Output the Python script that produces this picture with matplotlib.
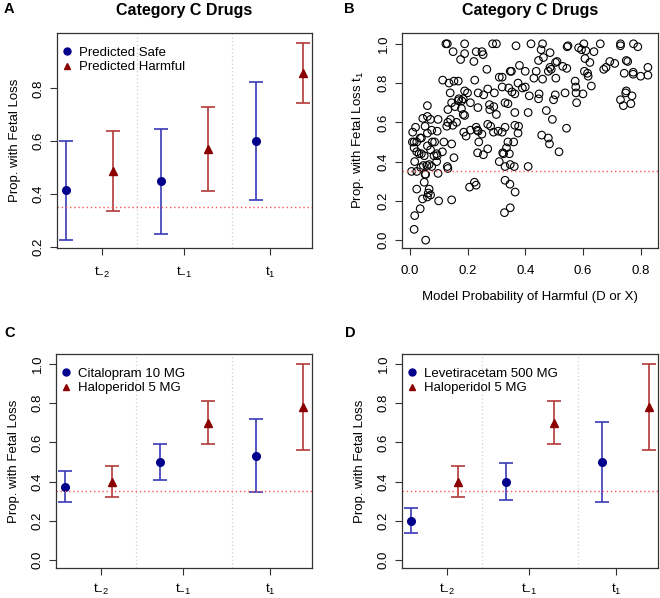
import matplotlib
matplotlib.use("Agg")
import matplotlib.pyplot as plt
from matplotlib.lines import Line2D

plt.rcParams['font.family'] = ['Liberation Sans', 'DejaVu Sans']
plt.rcParams['mathtext.fontset'] = 'custom'
plt.rcParams['mathtext.rm'] = 'Liberation Sans'
plt.rcParams['mathtext.it'] = 'Liberation Sans'

# ---- data ----
time_labels = [r'$\mathrm{t}_{-2}$', r'$\mathrm{t}_{-1}$', r'$\mathrm{t}_{1}$']

# panel A: predicted safe vs predicted harmful
safe_mean = [0.415, 0.448, 0.600]
safe_lo = [0.226, 0.249, 0.377]
safe_hi = [0.602, 0.646, 0.823]
harm_mean = [0.487, 0.571, 0.858]
harm_lo = [0.336, 0.411, 0.745]
harm_hi = [0.638, 0.731, 0.972]

# panel C / D: individual drugs
cital_mean = [0.375, 0.500, 0.533]
cital_lo = [0.298, 0.406, 0.349]
cital_hi = [0.453, 0.594, 0.719]
levet_mean = [0.200, 0.400, 0.500]
levet_lo = [0.137, 0.305, 0.296]
levet_hi = [0.264, 0.497, 0.702]
halo_mean = [0.400, 0.700, 0.782]
halo_lo = [0.321, 0.592, 0.562]
halo_hi = [0.477, 0.809, 1.000]

baseline = 0.35

# panel B: model probability vs fetal loss at t1
prob_harmful = [
    0.125, 0.13, 0.19, 0.287, 0.30, 0.42, 0.46, 0.603, 0.66, 0.73, 0.775,
    0.368, 0.545, 0.548, 0.79, 0.73,
    0.15, 0.23, 0.25, 0.254, 0.19, 0.455, 0.486, 0.585, 0.595, 0.61, 0.638,
    0.176, 0.222, 0.446, 0.51, 0.505, 0.607, 0.624, 0.693, 0.71, 0.75, 0.755,
    0.267, 0.463, 0.486, 0.53, 0.544, 0.672, 0.68, 0.825,
    0.348, 0.352, 0.38, 0.438, 0.48, 0.49, 0.605, 0.616, 0.743, 0.774, 0.774,
    0.31, 0.32, 0.46, 0.506, 0.618, 0.80, 0.825,
    0.114, 0.136, 0.153, 0.168, 0.225, 0.375, 0.43, 0.40, 0.40, 0.39,
    0.32, 0.343, 0.364, 0.354, 0.414, 0.448, 0.446, 0.538, 0.576, 0.575, 0.573, 0.629, 0.60, 0.578,
    0.14, 0.19, 0.20, 0.237, 0.256, 0.27, 0.293,
    0.168, 0.17, 0.18, 0.21, 0.185, 0.276, 0.291, 0.33, 0.34, 0.498, 0.504, 0.73, 0.74, 0.748, 0.75, 0.766, 0.77,
    0.061, 0.132, 0.145, 0.157, 0.179, 0.236, 0.277, 0.30, 0.364, 0.41, 0.473,
    0.045, 0.061, 0.072, 0.098, 0.053, 0.185, 0.19, 0.141, 0.132, 0.162, 0.149, 0.128, 0.494, 0.28,
    0.01, 0.02, 0.076, 0.061, 0.095, 0.23, 0.234, 0.237, 0.27, 0.29, 0.306, 0.32, 0.33, 0.364, 0.377, 0.375, 0.543, 0.187,
    0.009, 0.015, 0.024, 0.036, 0.04, 0.078, 0.086, 0.118, 0.195, 0.21, 0.239, 0.25, 0.34, 0.36, 0.457, 0.48, 0.484,
    0.015, 0.024, 0.032, 0.05, 0.061, 0.072, 0.084, 0.095, 0.113, 0.145, 0.04, 0.153, 0.093, 0.235, 0.255, 0.27, 0.322, 0.325, 0.345, 0.335, 0.517,
    0.006, 0.017, 0.024, 0.038, 0.047, 0.059, 0.067, 0.076, 0.055, 0.053, 0.093, 0.098, 0.13, 0.132, 0.31, 0.33, 0.348, 0.362, 0.41,
    0.024, 0.05, 0.067, 0.064, 0.072, 0.061, 0.044, 0.036, 0.017, 0.015, 0.055, 0.10, 0.145, 0.224, 0.23, 0.207, 0.33, 0.347, 0.365, 0.328, 0.348,
]
fetal_loss_t1 = [
    1.0, 1.0, 1.0, 1.0, 1.0, 1.0, 1.0, 1.0, 1.0, 1.0, 1.0,
    0.99, 0.985, 0.99, 0.985, 0.99,
    0.96, 0.96, 0.96, 0.945, 0.95, 0.97, 0.955, 0.98, 0.97, 0.965, 0.96,
    0.92, 0.91, 0.915, 0.91, 0.905, 0.925, 0.905, 0.91, 0.90, 0.915, 0.91,
    0.87, 0.93, 0.88, 0.885, 0.875, 0.87, 0.88, 0.88,
    0.86, 0.86, 0.89, 0.86, 0.86, 0.87, 0.86, 0.85, 0.85, 0.855, 0.845,
    0.83, 0.83, 0.82, 0.825, 0.835, 0.835, 0.84,
    0.815, 0.80, 0.81, 0.81, 0.815, 0.80, 0.825, 0.86, 0.78, 0.775,
    0.78, 0.775, 0.745, 0.755, 0.735, 0.745, 0.72, 0.75, 0.75, 0.78, 0.81, 0.785, 0.745, 0.70,
    0.75, 0.76, 0.75, 0.75, 0.74, 0.77, 0.75,
    0.71, 0.72, 0.71, 0.70, 0.72, 0.69, 0.68, 0.70, 0.695, 0.715, 0.74, 0.715, 0.685, 0.75, 0.76, 0.695, 0.735,
    0.685, 0.665, 0.70, 0.68, 0.67, 0.675, 0.665, 0.64, 0.65, 0.65, 0.66,
    0.62, 0.63, 0.615, 0.615, 0.58, 0.64, 0.635, 0.615, 0.60, 0.60, 0.585, 0.58, 0.615, 0.58,
    0.55, 0.575, 0.56, 0.545, 0.555, 0.575, 0.56, 0.555, 0.59, 0.55, 0.555, 0.55, 0.575, 0.585, 0.58, 0.545, 0.57, 0.55,
    0.50, 0.50, 0.50, 0.52, 0.52, 0.50, 0.50, 0.50, 0.53, 0.56, 0.50, 0.54, 0.50, 0.50, 0.535, 0.52, 0.49,
    0.47, 0.45, 0.44, 0.43, 0.48, 0.46, 0.43, 0.43, 0.45, 0.49, 0.44, 0.42, 0.44, 0.445, 0.435, 0.465, 0.445, 0.44, 0.44, 0.47, 0.45,
    0.35, 0.40, 0.35, 0.37, 0.38, 0.38, 0.385, 0.375, 0.335, 0.335, 0.40, 0.34, 0.375, 0.365, 0.40, 0.375, 0.385, 0.375, 0.375,
    0.26, 0.295, 0.26, 0.24, 0.23, 0.22, 0.21, 0.16, 0.125, 0.055, 0.0, 0.20, 0.205, 0.295, 0.28, 0.27, 0.305, 0.285, 0.245, 0.14, 0.165,
]

# ---- styling ----
BLUE_PT, BLUE_BAR = '#00008b', '#3a3ab8'
RED_PT, RED_BAR = '#8b0000', '#b23a3a'
W, H = 660, 598
fig = plt.figure(figsize=(W / 100, H / 100), dpi=100)


def px_axes(left, top, right, bottom):
    return fig.add_axes([left / W, 1 - bottom / H, (right - left) / W, (bottom - top) / H])


def style_axes(ax, xpad=7):
    for s in ax.spines.values():
        s.set_color('#333333')
        s.set_linewidth(0.9)
    ax.tick_params(length=5, width=0.8, color='#333333', labelsize=9.5)
    ax.tick_params(axis='x', pad=xpad)
    ax.tick_params(axis='y', pad=4, labelrotation=90)
    for lbl in ax.get_yticklabels():
        lbl.set_va('center')


def errorbar_panel(ax, blue, red, labels, ylim, yticks, xpad=7):
    blue_x = [0, 1, 2]
    red_x = [0.495, 1.495, 2.495]
    for xs, (m, lo, hi), pc, bc, mk in [(blue_x, blue, BLUE_PT, BLUE_BAR, 'o'),
                                        (red_x, red, RED_PT, RED_BAR, '^')]:
        ax.errorbar(xs, m, yerr=[[a - b for a, b in zip(m, lo)], [b - a for a, b in zip(m, hi)]],
                    fmt='none', ecolor=bc, elinewidth=1.2, capsize=5, capthick=1.2)
        ax.plot(xs, m, mk, color=pc, ms=5.5, ls='none')
    for v in [0.7475, 1.7475]:
        ax.axvline(v, color='#cfcfcf', ls=(0, (1, 2)), lw=0.9)
    ax.axhline(baseline, color='#ff5555', ls=(0, (1, 2)), lw=1.0)
    ax.set_xlim(-0.095, 2.59)
    ax.set_ylim(*ylim)
    ax.set_xticks([0.38, 1.24, 2.15])
    ax.set_xticklabels(time_labels, fontsize=10)
    ax.set_yticks(yticks)
    ax.set_yticklabels(['%.1f' % t for t in yticks])
    ax.set_ylabel('Prop. with Fetal Loss', fontsize=9.5, labelpad=8)
    handles = [Line2D([], [], marker='o', color=BLUE_PT, ls='none', ms=5),
               Line2D([], [], marker='^', color=RED_PT, ls='none', ms=5)]
    ax.legend(handles, labels, loc='upper left', frameon=False, fontsize=9.5,
              handlelength=0.6, handletextpad=0.65, labelspacing=0.15,
              borderaxespad=0.4, bbox_to_anchor=(-0.018, 0.985))
    style_axes(ax, xpad)


# panel A
axA = px_axes(57, 33, 312, 248)
errorbar_panel(axA, (safe_mean, safe_lo, safe_hi), (harm_mean, harm_lo, harm_hi),
               ['Predicted Safe', 'Predicted Harmful'], (0.196, 1.01), [0.2, 0.4, 0.6, 0.8])
axA.set_title('Category C Drugs', fontsize=11.5, fontweight='bold', pad=13)

# panel B
axB = px_axes(402, 33, 658, 248)
axB.scatter(prob_harmful, fetal_loss_t1, s=30, facecolors='none', edgecolors='black', linewidths=0.8)
axB.axhline(baseline, color='#ff5555', ls=(0, (1, 2)), lw=1.0)
axB.set_xlim(-0.027, 0.86)
axB.set_ylim(-0.04, 1.055)
axB.set_xticks([0.0, 0.2, 0.4, 0.6, 0.8])
axB.set_xticklabels(['0.0', '0.2', '0.4', '0.6', '0.8'])
axB.set_yticks([0.0, 0.2, 0.4, 0.6, 0.8, 1.0])
axB.set_yticklabels(['0.0', '0.2', '0.4', '0.6', '0.8', '1.0'])
axB.set_xlabel('Model Probability of Harmful (D or X)', fontsize=9.5, labelpad=10)
axB.set_ylabel(r'Prop. with Fetal Loss $\mathrm{t}_{1}$', fontsize=9.5, labelpad=8)
axB.set_title('Category C Drugs', fontsize=11.5, fontweight='bold', pad=13)
style_axes(axB)

# panel C
axC = px_axes(56, 354, 312, 568)
errorbar_panel(axC, (cital_mean, cital_lo, cital_hi), (halo_mean, halo_lo, halo_hi),
               ['Citalopram 10 MG', 'Haloperidol 5 MG'], (-0.04, 1.05), [0.0, 0.2, 0.4, 0.6, 0.8, 1.0],
               xpad=5)

# panel D
axD = px_axes(402, 354, 658, 568)
errorbar_panel(axD, (levet_mean, levet_lo, levet_hi), (halo_mean, halo_lo, halo_hi),
               ['Levetiracetam 500 MG', 'Haloperidol 5 MG'], (-0.04, 1.05), [0.0, 0.2, 0.4, 0.6, 0.8, 1.0],
               xpad=5)

for lab, x, y in [('A', 4, 9), ('B', 344, 9), ('C', 4, 333), ('D', 345, 333)]:
    fig.text(x / W, 1 - y / H, lab, fontsize=10.5, fontweight='bold', va='center', ha='left')

fig.savefig('out.png', dpi=100)
